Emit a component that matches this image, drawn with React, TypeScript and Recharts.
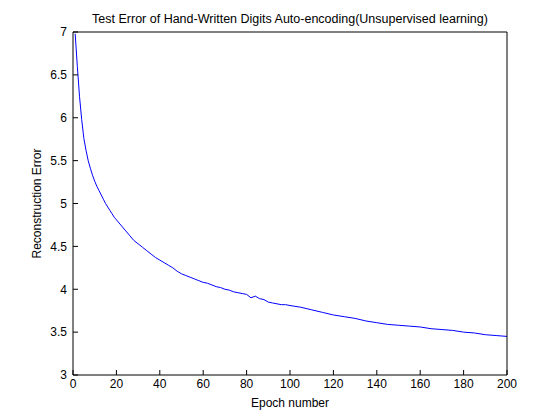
import React from "react";
import { LineChart, Line, XAxis, YAxis, Label } from "recharts";

const epochs = [
  1, 2, 3, 4, 5, 6, 7, 8, 9, 10, 11, 12, 13, 14, 15, 16, 17, 18, 19, 20,
  22, 24, 26, 28, 30, 32, 34, 36, 38, 40, 42, 44, 46, 48, 50, 52, 54, 56, 58, 60,
  62, 64, 66, 68, 70, 72, 74, 76, 78, 80, 82, 84, 86, 88, 90, 92, 94, 96, 98, 100,
  105, 110, 115, 120, 125, 130, 135, 140, 145, 150, 155, 160, 165, 170, 175, 180, 185, 190, 195, 200,
];

const errors = [
  6.98, 6.6, 6.25, 5.98, 5.76, 5.62, 5.5, 5.41, 5.33, 5.26, 5.2, 5.15, 5.1, 5.05, 5.0, 4.96, 4.92, 4.88, 4.84, 4.81,
  4.75, 4.69, 4.63, 4.57, 4.53, 4.49, 4.45, 4.41, 4.37, 4.34, 4.31, 4.28, 4.25, 4.21, 4.18, 4.16, 4.14, 4.12, 4.1, 4.08,
  4.07, 4.05, 4.03, 4.02, 4.0, 3.99, 3.97, 3.96, 3.95, 3.94, 3.9, 3.92, 3.89, 3.88, 3.85, 3.84, 3.83, 3.82, 3.82, 3.81,
  3.79, 3.76, 3.73, 3.7, 3.68, 3.66, 3.63, 3.61, 3.59, 3.58, 3.57, 3.56, 3.54, 3.53, 3.52, 3.5, 3.49, 3.47, 3.46, 3.45,
];

const xTicks = [0, 20, 40, 60, 80, 100, 120, 140, 160, 180, 200];
const yTicks = [3, 3.5, 4, 4.5, 5, 5.5, 6, 6.5, 7];

const title = "Test Error of Hand-Written Digits Auto-encoding(Unsupervised learning)";
const xLabel = "Epoch number";
const yLabel = "Reconstruction Error";

const data = epochs.map((e, i) => ({ epoch: e, error: errors[i] }));

const font = "'Liberation Sans', Arial, sans-serif";
const tickStyle = { fill: "#000", fontSize: 12, fontFamily: font };

export default function App() {
  return (
    <div style={{ position: "fixed", left: 0, top: 0, width: 560, height: 420, background: "#fff" }}>
      <div
        style={{
          position: "absolute",
          left: 73,
          width: 434,
          top: 12,
          textAlign: "center",
          fontFamily: font,
          fontSize: 12.5,
          color: "#000",
          whiteSpace: "nowrap",
        }}
      >
        {title}
      </div>
      <LineChart width={560} height={420} data={data} margin={{ top: 31, right: 52, left: 0, bottom: 0 }}>
        <XAxis
          xAxisId="bottom"
          dataKey="epoch"
          type="number"
          domain={[0, 200]}
          ticks={xTicks}
          interval={0}
          height={45}
          tickSize={-5}
          tickMargin={9}
          tick={tickStyle}
          stroke="#000"
          axisLine={{ stroke: "#000" }}
          tickLine={{ stroke: "#000" }}
        >
          <Label value={xLabel} position="insideBottom" offset={13} style={{ fill: "#000", fontSize: 12, fontFamily: font }} />
        </XAxis>
        <XAxis
          xAxisId="top"
          orientation="top"
          dataKey="epoch"
          type="number"
          domain={[0, 200]}
          ticks={xTicks}
          interval={0}
          height={1}
          tickSize={-5}
          tick={false}
          axisLine={{ stroke: "#000" }}
          tickLine={{ stroke: "#000" }}
        />
        <YAxis
          yAxisId="left"
          type="number"
          domain={[3, 7]}
          ticks={yTicks}
          interval={0}
          width={73}
          tickSize={-5}
          tickMargin={11}
          tick={tickStyle}
          axisLine={{ stroke: "#000" }}
          tickLine={{ stroke: "#000" }}
        >
          <Label
            value={yLabel}
            angle={-90}
            position="insideLeft"
            offset={37}
            style={{ textAnchor: "middle", fill: "#000", fontSize: 12, fontFamily: font }}
          />
        </YAxis>
        <YAxis
          yAxisId="right"
          orientation="right"
          type="number"
          domain={[3, 7]}
          ticks={yTicks}
          interval={0}
          width={1}
          tickSize={-5}
          tick={false}
          axisLine={{ stroke: "#000" }}
          tickLine={{ stroke: "#000" }}
        />
        <Line
          xAxisId="bottom"
          yAxisId="left"
          dataKey="error"
          type="linear"
          stroke="#0000ff"
          strokeWidth={1}
          dot={false}
          isAnimationActive={false}
        />
      </LineChart>
    </div>
  );
}
